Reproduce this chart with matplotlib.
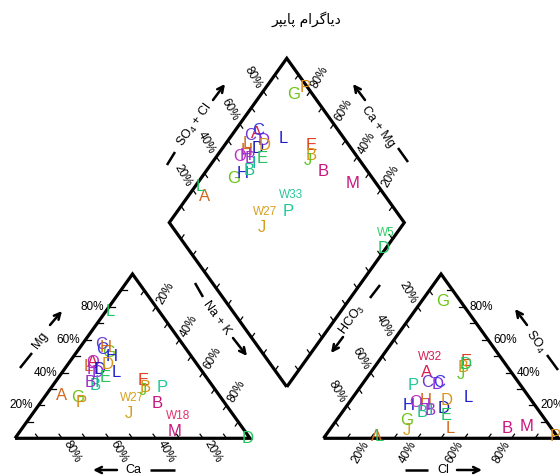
import numpy as np
import matplotlib
matplotlib.use('Agg')
import matplotlib.pyplot as plt

plt.rcParams['font.family'] = ['Liberation Sans', 'DejaVu Sans']
plt.rcParams['mathtext.fontset'] = 'custom'
plt.rcParams['mathtext.rm'] = 'Liberation Sans'

# ---------------- data (percent of meq) ----------------
labels = ['A', 'L', 'G', 'P', 'E', 'B', 'J', 'D', 'P', 'J', 'B', 'M', 'G', 'L', 'L',
          'A', 'C', 'D', 'C', 'H', 'O', 'H', 'H', 'B', 'D', 'E', 'B', 'D', 'I']
colors = ['#D2691E', '#22C55E', '#6CC417', '#D98A1A', '#E0401E', '#D9961A', '#5CC92A',
          '#22C55E', '#20C997', '#D4A020', '#C8177E', '#C8177E', '#6CC417', '#1E1ED0',
          '#D2691E', '#D62050', '#6A3AD0', '#8A2BE2', '#3A3AE0', '#1E1ED0', '#C030C0',
          '#D2691E', '#A030D0', '#20C090', '#1A1AB0', '#22C55E', '#9A30C8', '#D9961A',
          '#20B0A0']
ca   = [67, 21, 61, 61, 28, 29, 31, 1, 22, 44, 29, 30, 34, 37, 47, 44, 35, 45, 36, 34, 44, 34, 46, 50, 43, 43, 51, 38, 48]
mg   = [26, 77, 25, 22, 35, 31, 29, 0, 31, 15, 21, 4, 52, 40, 44, 46, 57, 40, 54, 50, 46, 55, 42, 32, 42, 37, 34, 45, 34]
nak  = [7, 2, 14, 17, 37, 40, 40, 99, 47, 41, 50, 66, 14, 23, 9, 10, 8, 15, 10, 16, 10, 11, 12, 18, 15, 20, 15, 17, 18]
hco3 = [77, 76, 8, 1, 16, 19, 22, 17, 46, 62, 19, 10, 59, 26, 43, 36, 39, 35, 34, 54, 50, 45, 47, 50, 40, 41, 46, 36, 46]
so4  = [1, 1, 83, 1, 47, 43, 39, 45, 32, 5, 6, 7, 11, 25, 6, 40, 34, 33, 34, 20, 22, 23, 20, 16, 18, 14, 17, 23, 17]
cl   = [22, 23, 9, 98, 37, 38, 39, 38, 22, 33, 75, 83, 30, 49, 51, 24, 27, 32, 32, 26, 28, 32, 33, 34, 42, 45, 37, 41, 37]

note_text   = ['W18', 'W27', 'W27', 'W32', 'W33', 'W5']
note_sample = [11, 9, 9, 15, 8, 7]
note_panel  = ['cation', 'cation', 'diamond', 'anion', 'diamond', 'diamond']
note_color  = ['#E0336F', '#D4A020', '#D4A020', '#D62050', '#2BC79A', '#33CC66']

tick_vals = [20, 40, 60, 80]
title = '\uFEAE\uFB59\uFBFE\uFE8E\uFB58 \uFEE1\uFE8D\uFEAE\uFB94\uFE8E\uFBFE\uFEA9'  # دیاگرام پایپر

# ---------------- geometry ----------------
S = np.sqrt(3) / 2
GAP = 0.313
BX, BY = 1 + GAP / 2, GAP / 2 * np.sqrt(3)
X0, X1 = -0.06383, 2.31915
Y0, Y1 = -0.19874, 2.31049

fig = plt.figure(figsize=(5.6, 4.76), dpi=100)
ax = fig.add_axes([0, 0, 1, 1])
ax.set_xlim(X0, X1)
ax.set_ylim(Y0, Y1)
ax.axis('off')
SX = 560 / (X1 - X0)
SY = 476 / (Y1 - Y0)


def px2d(px, py):
    return X0 + px / SX, Y1 - py / SY


def cat_xy(c, m, n):
    t = c + m + n
    return (n + m / 2) / t, m / t * S


def an_xy(h, s, c):
    t = h + s + c
    return 1 + GAP + (c + s / 2) / t, s / t * S


def dia_xy(c, m, n, h, s, cl_):
    cm = (c + m) / (c + m + n)
    sc = (s + cl_) / (h + s + cl_)
    return BX + 0.5 * (sc - cm), BY + S * (cm + sc)


def pixdir(du, dv, L):
    px, py = du * SX, dv * SY
    n = np.hypot(px, py)
    return px / n * L, py / n * L


LW = 2.3
tri1 = np.array([[0, 0], [1, 0], [0.5, S], [0, 0]])
tri2 = tri1 + [1 + GAP, 0]
e1 = np.array([-0.5, S])
e2 = np.array([0.5, S])
B = np.array([BX, BY])
dia = np.array([B, B + e1, B + e1 + e2, B + e2, B])
for poly in (tri1, tri2, dia):
    ax.plot(poly[:, 0], poly[:, 1], color='black', lw=LW, solid_joinstyle='miter',
            solid_capstyle='butt', zorder=3)

TL = 0.025
tick_kw = dict(color='black', lw=0.9, zorder=3)
lab_kw = dict(fontsize=8.5, ha='center', va='center', textcoords='offset pixels')


def tick(p, d):
    p = np.asarray(p, float)
    q = p + np.asarray(d) * TL
    ax.plot([p[0], q[0]], [p[1], q[1]], **tick_kw)


def tlabel(p, d, txt, rot, L=17):
    ox, oy = pixdir(d[0], d[1], L)
    ax.annotate(txt, xy=p, xytext=(ox, oy), rotation=rot, rotation_mode='anchor', **lab_kw)


for k in range(1, 10):
    f = k / 10
    # cation
    tick((1 - f, 0), (-0.5, S))
    tick((f / 2, f * S), (1, 0))
    tick((0.5 + f / 2, (1 - f) * S), (-0.5, -S))
    # anion
    tick((1 + GAP + f, 0), (0.5, S))
    tick((2 + GAP - f / 2, f * S), (-1, 0))
    tick((1 + GAP + (1 - f) / 2, (1 - f) * S), (0.5, -S))
    # diamond
    tick(B + e1 + f * e2, -e1)
    tick(B + f * e1 + e2, -e2)
    tick(B + f * e1, e2)
    tick(B + f * e2, e1)

for v in tick_vals:
    f = v / 100
    t = f'{v}%'
    tlabel((1 - f, 0), (0.5, -S), t, -60)
    tlabel((f / 2, f * S), (-1, 0), t, 0)
    tlabel((0.5 + f / 2, (1 - f) * S), (0.5, S), t, 60)
    tlabel((1 + GAP + f, 0), (-0.5, -S), t, 60)
    tlabel((2 + GAP - f / 2, f * S), (1, 0), t, 0)
    tlabel((1 + GAP + (1 - f) / 2, (1 - f) * S), (-0.5, S), t, -60)
    tlabel(tuple(B + e1 + f * e2), tuple(e1), t, -60)
    tlabel(tuple(B + f * e1 + e2), tuple(e2), t, 60)

# ---------------- axis titles with dashes and arrows (pixel layout) ----------------
titles = [
    ('Mg', (20, 368), (32, 353), (40, 340), 54, (50, 325), (62, 311)),
    ('Ca', (175, 470), (150, 470), (133, 470), 0, (117, 470), (93, 470)),
    ('Na + K', (195, 283), (203, 297), (217, 318), -54, (233, 338), (247, 356)),
    ('SO$_\\mathregular{4}$ + Cl', (167, 165), (175, 152), (195, 125), 54, (213, 100), (225, 84)),
    ('Ca + Mg', (408, 162), (398, 148), (378, 127), -54, (365, 100), (353, 84)),
    ('HCO$_\\mathregular{3}$', (380, 285), (370, 298), (352, 320), 54, (343, 337), (331, 353)),
    ('Cl', (405, 470), (428, 470), (443, 470), 0, (457, 470), (482, 470)),
    ('SO$_\\mathregular{4}$', (558, 370), (547, 355), (535, 342), -54, (527, 325), (515, 309)),
]
for txt, d0, d1, tp, rot, a0, a1 in titles:
    p0, p1 = px2d(*d0), px2d(*d1)
    ax.plot([p0[0], p1[0]], [p0[1], p1[1]], color='black', lw=1.8, solid_capstyle='butt')
    ax.text(*px2d(*tp), txt, rotation=rot, ha='center', va='center', fontsize=9,
            rotation_mode='anchor')
    ax.annotate('', xy=px2d(*a1), xytext=px2d(*a0),
                arrowprops=dict(arrowstyle='->', lw=1.8, color='black',
                                mutation_scale=11, shrinkA=0, shrinkB=0))

# ---------------- sample letters ----------------
pt_kw = dict(ha='center', va='center', fontsize=12, zorder=5)
for i, lab in enumerate(labels):
    x, y = cat_xy(ca[i], mg[i], nak[i])
    ax.text(x, y, lab, color=colors[i], **pt_kw)
    x, y = an_xy(hco3[i], so4[i], cl[i])
    ax.text(x, y, lab, color=colors[i], **pt_kw)
    x, y = dia_xy(ca[i], mg[i], nak[i], hco3[i], so4[i], cl[i])
    ax.text(x, y, lab, color=colors[i], **pt_kw)

for txt, i, panel, col in zip(note_text, note_sample, note_panel, note_color):
    if panel == 'cation':
        p = cat_xy(ca[i], mg[i], nak[i])
    elif panel == 'anion':
        p = an_xy(hco3[i], so4[i], cl[i])
    else:
        p = dia_xy(ca[i], mg[i], nak[i], hco3[i], so4[i], cl[i])
    ax.annotate(txt, xy=p, xytext=(3, 16), textcoords='offset pixels', color=col,
                fontsize=8.5, ha='center', va='center', zorder=5)

ax.text(*px2d(306, 19), title, ha='center', va='center', fontsize=10,
        family=['DejaVu Sans'])

fig.savefig('out.png', dpi=100)
